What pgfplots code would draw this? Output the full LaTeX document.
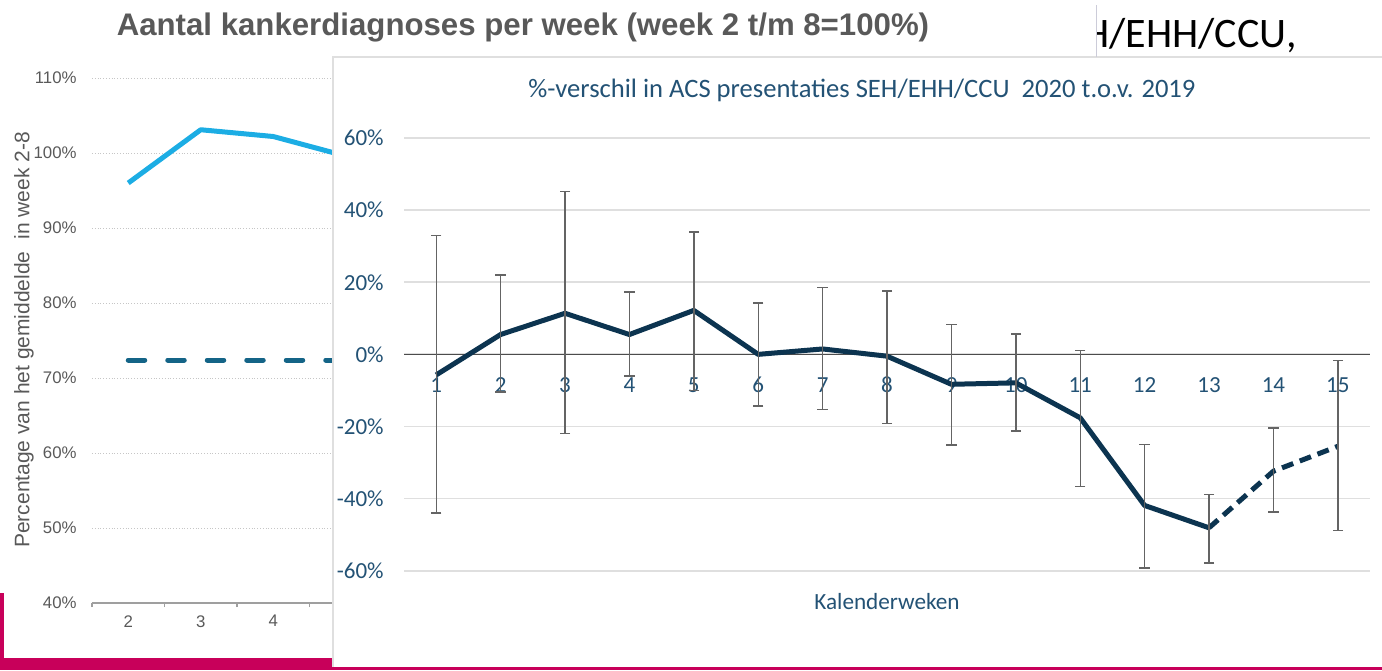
\documentclass[border=0pt]{standalone}
\usepackage{pgfplots}
\usepackage{pgfplotstable}
\pgfplotsset{compat=1.18}
\usepackage{fontspec}
\setmainfont{Liberation Sans}
\newfontfamily\carlito[Numbers=Lining]{Carlito}
\definecolor{bggray}{RGB}{89,89,89}
\definecolor{cyanline}{RGB}{28,173,228}
\definecolor{tealdash}{RGB}{20,100,135}
\definecolor{navy}{RGB}{12,52,80}
\definecolor{fgtext}{RGB}{35,82,117}
\definecolor{magenta1}{RGB}{200,0,90}
\definecolor{errgray}{RGB}{100,100,100}

% week, value, error plus, error minus
\pgfplotstableread{
w y ep em
1 -5.7 38.7 38.3
2 5.5 16.5 16.0
3 11.4 33.8 33.4
4 5.5 11.8 11.5
5 12.2 21.8 22.2
6 0.0 14.2 14.4
7 1.5 17.0 16.8
8 -0.5 18.1 18.7
9 -8.3 16.6 16.9
10 -7.9 13.5 13.4
11 -17.6 18.7 19.0
12 -41.9 16.9 17.4
13 -48.1 9.2 9.8
14 -32.4 12.0 11.4
15 -25.5 23.8 23.3
}\acsdata

\begin{document}
\begin{tikzpicture}
\path[use as bounding box] (0,0) rectangle (691pt,-335pt);
\clip (0,0) rectangle (691pt,-335pt);

% ---------- background chart ----------
\begin{axis}[
  scale only axis, width=507.5pt, height=262.5pt,
  at={(46pt,-301.5pt)}, anchor=south west,
  xmin=1.5, xmax=15.5, ymin=40, ymax=110,
  axis lines*=left,
  y axis line style={draw=none},
  x axis line style={draw=gray!75, line width=0.75pt},
  xtick={2,...,15}, minor xtick={1.5,2.5,...,15.5},
  major tick length=0pt, minor tick length=2pt, tick align=outside,
  minor tick style={draw=gray!75, line width=0.6pt},
  ytick={40,50,...,110},
  yticklabels={40\%,50\%,60\%,70\%,80\%,90\%,100\%,110\%},
  ymajorgrids, grid style={draw=gray!45, densely dotted, line width=0.5pt},
  tick label style={font=\fontsize{8.4pt}{10pt}\selectfont, text=bggray},
  /pgf/number format/assume math mode=true,
  yticklabel style={anchor=east, inner sep=0pt, xshift=-7.5pt},
  xticklabel style={anchor=north, inner sep=0pt, yshift=-6pt},
]
\addplot[cyanline, line width=2.5pt, line join=round] coordinates {(2,96) (3,103.1) (4,102.2) (5,99.6)};
\addplot[tealdash, line width=2.5pt, line cap=round, dash pattern=on 8.25pt off 11.5pt] coordinates {(2,72.4) (3,72.4) (4,72.4) (5,72.4)};
\end{axis}

% frame pieces
\fill[magenta1] (0,-296.5pt) rectangle (2pt,-335pt);
\fill[magenta1] (0,-329pt) rectangle (166.5pt,-335pt);
\fill[magenta1] (166.5pt,-333.5pt) rectangle (691pt,-335pt);

% panel
\fill[white] (166.5pt,-28.5pt) rectangle (691pt,-333.5pt);
\draw[gray!25, line width=0.6pt] (166.5pt,-333.5pt) -- (166.5pt,-28.5pt) -- (691pt,-28.5pt);

% ---------- foreground chart ----------
\begin{axis}[
  scale only axis, width=483pt, height=216.35pt,
  at={(202pt,-285.35pt)}, anchor=south west,
  xmin=0.5, xmax=15.5, ymin=-60, ymax=60,
  axis x line=middle, axis y line=left,
  x axis line style={-, draw=gray!60!black, line width=0.75pt},
  y axis line style={draw=none},
  hide obscured x ticks=false, hide obscured y ticks=false,
  major tick length=0pt,
  xtick={1,...,15},
  ytick={-60,-40,...,60},
  yticklabels={-60\%,-40\%,-20\%,0\%,20\%,40\%,60\%},
  ymajorgrids, grid style={draw=gray!25, line width=0.9pt},
  tick label style={font=\carlito\fontsize{11.5pt}{13pt}\selectfont, text=fgtext},
  /pgf/number format/assume math mode=true,
  yticklabel style={anchor=east, inner sep=0pt, xshift=-10pt},
  xticklabel style={anchor=base, inner sep=0pt, yshift=-19pt},
  xlabel={Kalenderweken},
  xlabel style={at={(axis description cs:0.5,0)}, anchor=north, inner sep=0pt, yshift=-11pt,
    font=\carlito\fontsize{11.6pt}{13pt}\selectfont, text=fgtext},
  clip=false,
]
\addplot[navy, line width=2.5pt, line join=round] coordinates {
  (1,-5.7) (2,5.5) (3,11.4) (4,5.5) (5,12.2) (6,0.0) (7,1.5) (8,-0.5)
  (9,-8.3) (10,-7.9) (11,-17.6) (12,-41.9) (13,-48.1)};
\addplot[navy, line width=2.5pt, dash pattern=on 6pt off 3.5pt] coordinates {
  (13,-48.1) (14,-32.4) (15,-25.5)};
% error bars (vertical whiskers)
\addplot[draw=none,
  error bars/.cd, y dir=both, y explicit,
  error bar style={draw=errgray, line width=0.7pt}]
  table[x=w, y=y, y error plus=ep, y error minus=em] {\acsdata};
% whisker caps (upper and lower ends)
\addplot[only marks, mark=-, mark size=2.6pt, mark options={draw=errgray, line width=0.8pt}]
  table[x=w, y expr=\thisrow{y}+\thisrow{ep}] {\acsdata};
\addplot[only marks, mark=-, mark size=2.6pt, mark options={draw=errgray, line width=0.8pt}]
  table[x=w, y expr=\thisrow{y}-\thisrow{em}] {\acsdata};
\end{axis}

% titles and texts
\node[font=\carlito\fontsize{13.3pt}{15pt}\selectfont, text=fgtext] at (431pt,-45pt)
  {\%-verschil in ACS presentaties SEH/EHH/CCU\ \ 2020 t.o.v. 2019};
\node[font=\bfseries\fontsize{15.6pt}{18pt}\selectfont, text=bggray] at (261.5pt,-13.5pt)
  {Aantal kankerdiagnoses per week (week 2 t/m 8=100\%)};
\node[rotate=90, font=\fontsize{10.5pt}{12pt}\selectfont, text=bggray] at (12pt,-170pt)
  {Percentage van het gemiddelde\ \ in week 2-8};
\node[font=\carlito\fontsize{21pt}{24pt}\selectfont, anchor=base west, inner sep=0pt] at (541.5pt,-23.5pt)
  {H/EHH/CCU,};
\fill[white] (500pt,0pt) rectangle (548pt,-28pt);
\draw[blue!15!gray!35, line width=0.4pt] (548pt,-2.5pt) -- (548pt,-28.5pt);
\end{tikzpicture}
\end{document}
